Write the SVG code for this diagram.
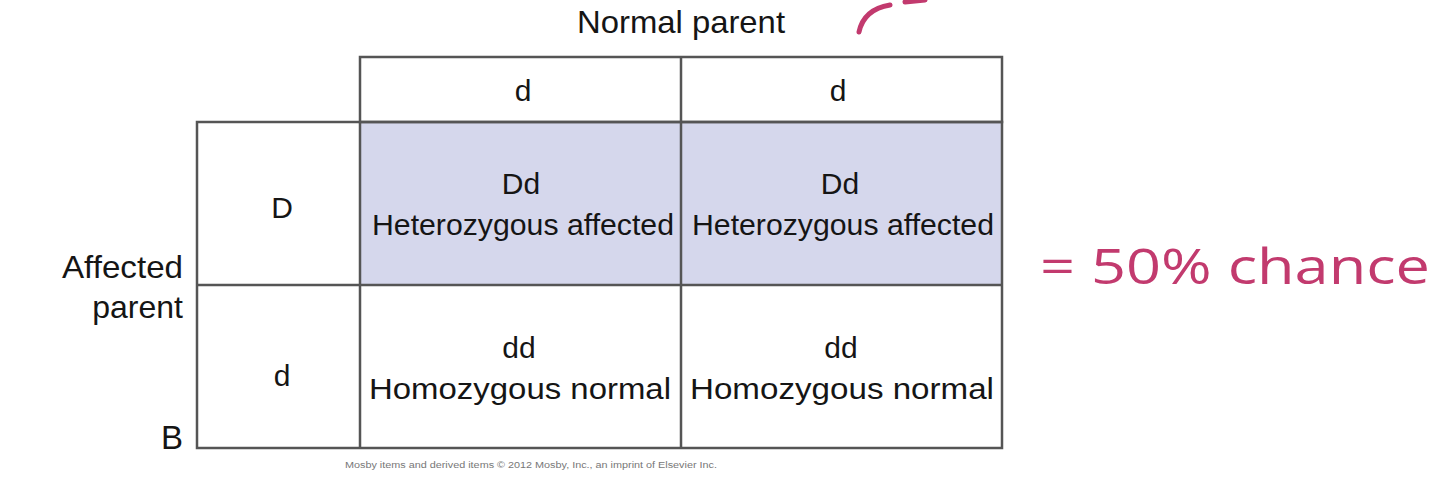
<svg xmlns="http://www.w3.org/2000/svg" width="1440" height="480" viewBox="0 0 1440 480">
<style>
.t{font-family:"Liberation Sans",Arial,sans-serif;font-size:30px;fill:#151515;text-anchor:middle}
.lb{font-size:32px}
.ln{fill:none;stroke:#555;stroke-width:2.5}
.sh{fill:#d5d7ec}
.hw{font-family:"Open Sans","DejaVu Sans",sans-serif;fill:#c23a6e}
</style>
<rect width="1440" height="480" fill="#fff"/>
<g id="labels">
<text class="t lb" x="681" y="33" textLength="208" lengthAdjust="spacingAndGlyphs">Normal parent</text>
<text class="t lb" x="183" y="278" style="text-anchor:end" textLength="121" lengthAdjust="spacingAndGlyphs">Affected</text>
<text class="t lb" x="183" y="318" style="text-anchor:end">parent</text>
<text class="t" x="183" y="449" style="text-anchor:end;font-size:33px">B</text>
<text x="531" y="468" style="font-family:'Liberation Sans',Arial,sans-serif;font-size:8.5px;fill:#777;text-anchor:middle" textLength="372" lengthAdjust="spacingAndGlyphs">Mosby items and derived items © 2012 Mosby, Inc., an imprint of Elsevier Inc.</text>
</g>
<g id="cells-shaded">
<rect class="sh" x="360" y="122" width="642" height="163"/>
</g>
<g id="grid">
<rect class="ln" x="360" y="57" width="642" height="65"/>
<rect class="ln" x="197" y="122" width="805" height="326"/>
<line class="ln" x1="360" y1="122" x2="360" y2="448"/>
<line class="ln" x1="681" y1="57" x2="681" y2="448"/>
<line class="ln" x1="197" y1="285" x2="1002" y2="285"/>
</g>
<g id="header-d1"><text class="t" x="523" y="101">d</text></g>
<g id="header-d2"><text class="t" x="838" y="101">d</text></g>
<g id="row-D"><text class="t" x="282" y="218">D</text></g>
<g id="row-d"><text class="t" x="282" y="386">d</text></g>
<g id="cell-Dd1"><text class="t" x="521" y="194">Dd</text><text class="t" x="523" y="235" textLength="302" lengthAdjust="spacingAndGlyphs">Heterozygous affected</text></g>
<g id="cell-Dd2"><text class="t" x="840" y="194">Dd</text><text class="t" x="843" y="235" textLength="302" lengthAdjust="spacingAndGlyphs">Heterozygous affected</text></g>
<g id="cell-dd1"><text class="t" x="519" y="358">dd</text><text class="t" x="520" y="399" textLength="302" lengthAdjust="spacingAndGlyphs">Homozygous normal</text></g>
<g id="cell-dd2"><text class="t" x="841" y="358">dd</text><text class="t" x="842" y="399" textLength="304" lengthAdjust="spacingAndGlyphs">Homozygous normal</text></g>
<g id="annotation">
<path d="M859 32 C862 18 872 8 890 5 M905 2 L925 0" fill="none" stroke="#c23a6e" stroke-width="5" stroke-linecap="round"/>
<text class="hw" x="1040" y="284" style="font-size:50px" textLength="390" lengthAdjust="spacingAndGlyphs">= 50% chance</text>
</g>
</svg>
